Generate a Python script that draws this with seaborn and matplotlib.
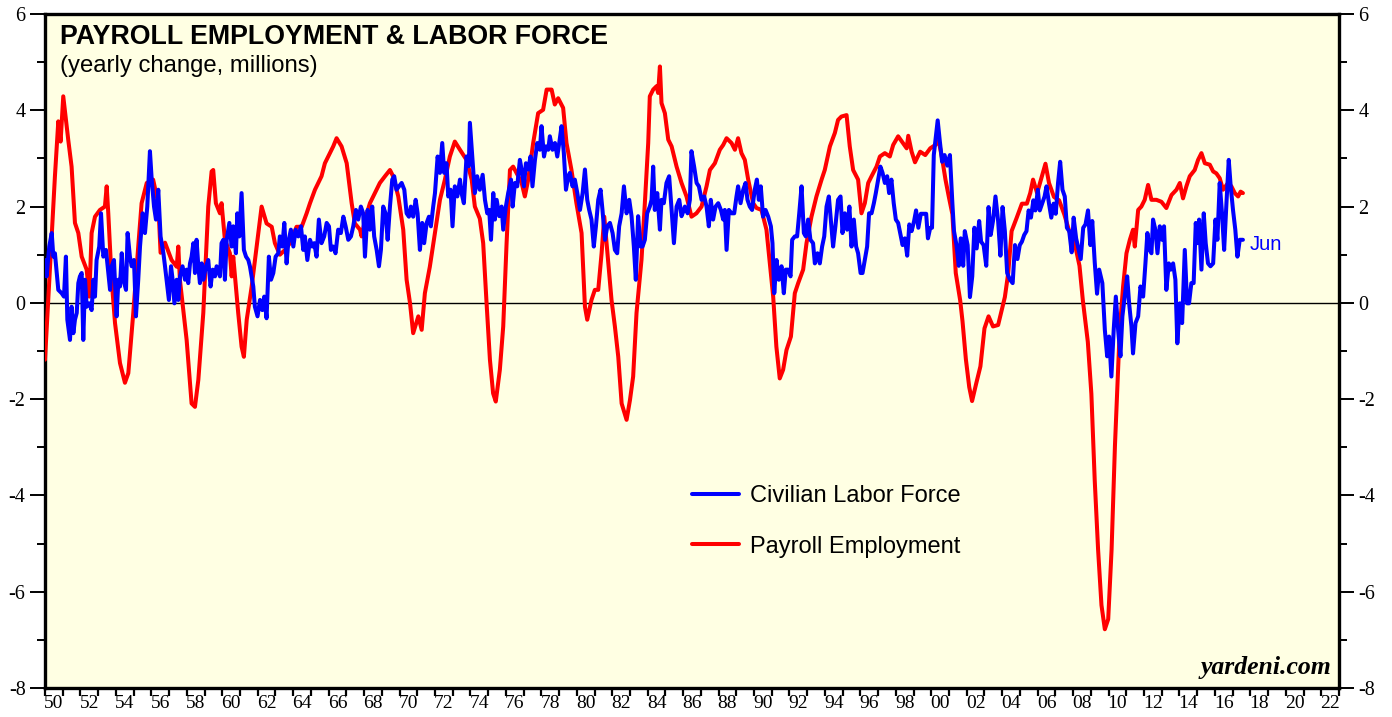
import matplotlib
matplotlib.use("Agg")
import matplotlib.pyplot as plt
import numpy as np
import pandas as pd
import seaborn as sns
from matplotlib.lines import Line2D
from matplotlib.ticker import FixedLocator, FixedFormatter, NullFormatter

# ---------------- data ----------------
payroll_year = [
    1950.00, 1950.56, 1950.75, 1950.88, 1951.03, 1951.31, 1951.50, 1951.69, 1951.88, 1952.07,
    1952.35, 1952.50, 1952.63, 1952.82, 1953.10, 1953.38, 1953.48, 1953.57, 1953.76, 1953.95,
    1954.23, 1954.51, 1954.70, 1954.98, 1955.26, 1955.45, 1955.74, 1956.10, 1956.39, 1956.52,
    1956.77, 1957.14, 1957.43, 1957.52, 1957.61, 1957.99, 1958.27, 1958.46, 1958.65, 1958.93,
    1959.21, 1959.40, 1959.49, 1959.64, 1959.87, 1959.96, 1960.15, 1960.43, 1960.53, 1960.62,
    1960.90, 1961.09, 1961.22, 1961.38, 1961.66, 1961.94, 1962.22, 1962.50, 1962.79, 1962.97,
    1963.25, 1963.54, 1963.82, 1964.19, 1964.48, 1964.76, 1964.95, 1965.23, 1965.60, 1965.79,
    1966.07, 1966.26, 1966.45, 1966.73, 1967.02, 1967.30, 1967.48, 1967.77, 1967.86, 1968.05,
    1968.33, 1968.61, 1968.89, 1969.18, 1969.46, 1969.64, 1969.93, 1970.21, 1970.40, 1970.59,
    1970.77, 1971.06, 1971.25, 1971.43, 1971.71, 1972.00, 1972.28, 1972.56, 1972.84, 1973.12,
    1973.41, 1973.78, 1974.07, 1974.25, 1974.53, 1974.72, 1974.91, 1975.10, 1975.28, 1975.43,
    1975.66, 1975.85, 1976.04, 1976.23, 1976.41, 1976.70, 1976.89, 1977.07, 1977.26, 1977.54,
    1977.82, 1978.10, 1978.30, 1978.58, 1978.76, 1978.95, 1979.23, 1979.42, 1979.70, 1979.98,
    1980.27, 1980.46, 1980.59, 1980.83, 1981.02, 1981.21, 1981.40, 1981.55, 1981.68, 1981.96,
    1982.15, 1982.34, 1982.53, 1982.81, 1983.00, 1983.18, 1983.37, 1983.65, 1983.84, 1984.03,
    1984.12, 1984.31, 1984.50, 1984.59, 1984.69, 1984.78, 1984.97, 1985.16, 1985.35, 1985.63,
    1985.91, 1986.19, 1986.47, 1986.75, 1987.04, 1987.32, 1987.51, 1987.79, 1988.07, 1988.26,
    1988.45, 1988.73, 1988.92, 1989.10, 1989.29, 1989.48, 1989.67, 1989.95, 1990.14, 1990.42,
    1990.70, 1990.89, 1991.08, 1991.26, 1991.45, 1991.64, 1991.83, 1992.08, 1992.30, 1992.49,
    1992.77, 1992.96, 1993.24, 1993.52, 1993.81, 1993.99, 1994.28, 1994.56, 1994.74, 1994.93,
    1995.22, 1995.40, 1995.59, 1995.87, 1996.06, 1996.25, 1996.44, 1996.63, 1996.91, 1997.10,
    1997.38, 1997.66, 1997.85, 1998.13, 1998.61, 1998.70, 1998.89, 1999.08, 1999.37, 1999.66,
    1999.94, 2000.23, 2000.42, 2000.61, 2000.80, 2000.99, 2001.19, 2001.38, 2001.63, 2001.76,
    2001.95, 2002.14, 2002.30, 2002.53, 2002.77, 2003.00, 2003.23, 2003.48, 2003.77, 2003.96,
    2004.15, 2004.34, 2004.53, 2004.82, 2005.11, 2005.39, 2005.58, 2005.74, 2005.97, 2006.25,
    2006.44, 2006.64, 2006.92, 2007.21, 2007.50, 2007.78, 2008.07, 2008.36, 2008.55, 2008.83,
    2009.03, 2009.22, 2009.41, 2009.60, 2009.79, 2009.98, 2010.17, 2010.36, 2010.63, 2010.82,
    2011.01, 2011.20, 2011.38, 2011.48, 2011.67, 2011.85, 2012.04, 2012.23, 2012.42, 2012.70,
    2012.98, 2013.26, 2013.55, 2013.83, 2014.02, 2014.20, 2014.39, 2014.58, 2014.86, 2015.05,
    2015.24, 2015.43, 2015.71, 2015.90, 2016.08, 2016.27, 2016.46, 2016.74, 2016.93, 2017.12,
    2017.31, 2017.45, 2017.58,
]
payroll_val = [
    -1.18, 2.63, 3.77, 3.35, 4.29, 3.39, 2.83, 1.66, 1.45, 0.96,
    0.69, 0.13, 1.45, 1.79, 1.93, 2.00, 2.42, 1.86, 0.48, -0.42,
    -1.25, -1.66, -1.46, -0.21, 1.17, 2.07, 2.49, 2.56, 2.07, 1.04,
    1.25, 0.89, 0.75, 1.17, 0.48, -0.77, -2.09, -2.16, -1.60, -0.21,
    2.00, 2.73, 2.76, 2.07, 1.86, 2.07, 1.31, 1.03, 0.55, 0.96,
    -0.21, -0.91, -1.12, -0.35, 0.34, 1.17, 2.00, 1.65, 1.58, 1.24,
    1.00, 1.10, 1.24, 1.58, 1.58, 1.86, 2.07, 2.35, 2.63, 2.90,
    3.11, 3.25, 3.42, 3.25, 2.90, 2.07, 1.65, 1.52, 1.38, 1.72,
    2.07, 2.28, 2.49, 2.63, 2.76, 2.63, 2.21, 1.52, 0.48, 0.00,
    -0.63, -0.28, -0.56, 0.20, 0.75, 1.45, 2.14, 2.56, 3.04, 3.35,
    3.18, 2.97, 2.56, 2.00, 1.75, 1.24, 0.00, -1.18, -1.88, -2.05,
    -1.39, -0.49, 1.24, 2.76, 2.83, 2.63, 2.49, 2.21, 2.56, 3.32,
    3.94, 4.01, 4.43, 4.43, 4.12, 4.25, 4.05, 3.32, 2.76, 2.07,
    1.45, -0.08, -0.35, 0.06, 0.27, 0.27, 1.03, 1.79, 1.24, 0.06,
    -0.49, -1.12, -2.09, -2.43, -2.02, -1.53, -0.21, 0.89, 2.07, 3.32,
    4.29, 4.43, 4.50, 4.36, 4.91, 4.15, 3.94, 3.39, 3.25, 2.83,
    2.49, 2.21, 1.79, 1.86, 2.00, 2.42, 2.76, 2.90, 3.18, 3.28,
    3.42, 3.32, 3.18, 3.42, 3.11, 2.97, 2.56, 2.07, 1.97, 1.93,
    1.52, 0.82, 0.13, -0.91, -1.57, -1.39, -0.98, -0.70, 0.20, 0.41,
    0.69, 1.24, 1.79, 2.21, 2.56, 2.76, 3.25, 3.53, 3.80, 3.87,
    3.90, 3.25, 2.76, 2.56, 1.86, 2.07, 2.49, 2.63, 2.83, 3.04,
    3.11, 3.04, 3.28, 3.46, 3.21, 3.47, 3.14, 2.92, 3.14, 3.07,
    3.21, 3.28, 3.36, 3.00, 2.56, 2.20, 1.84, 0.62, 0.05, -0.38,
    -1.17, -1.75, -2.04, -1.68, -1.32, -0.53, -0.28, -0.49, -0.46, -0.17,
    0.12, 0.62, 1.49, 1.77, 2.06, 2.06, 2.28, 2.56, 2.28, 2.64,
    2.89, 2.49, 2.20, 2.13, 1.84, 1.49, 1.27, 0.77, 0.05, -0.81,
    -1.89, -3.69, -5.13, -6.28, -6.78, -6.57, -5.13, -2.97, -0.56, 0.34,
    1.03, 1.31, 1.52, 1.17, 1.93, 2.00, 2.14, 2.45, 2.14, 2.14,
    2.10, 1.97, 2.24, 2.35, 2.49, 2.17, 2.42, 2.63, 2.76, 2.97,
    3.11, 2.90, 2.87, 2.73, 2.69, 2.59, 2.35, 2.49, 2.42, 2.28,
    2.21, 2.31, 2.28,
]

labor_year = [
    1950.00, 1950.09, 1950.24, 1950.38, 1950.47, 1950.56, 1950.75, 1950.94, 1951.07, 1951.18,
    1951.26, 1951.41, 1951.50, 1951.60, 1951.69, 1951.79, 1951.88, 1951.97, 1952.07, 1952.16,
    1952.26, 1952.35, 1952.50, 1952.63, 1952.73, 1952.82, 1952.91, 1953.06, 1953.16, 1953.29,
    1953.44, 1953.57, 1953.67, 1953.76, 1953.89, 1954.04, 1954.14, 1954.23, 1954.33, 1954.42,
    1954.57, 1954.66, 1954.79, 1954.89, 1955.02, 1955.13, 1955.26, 1955.36, 1955.51, 1955.64,
    1955.77, 1955.92, 1956.02, 1956.15, 1956.26, 1956.39, 1956.52, 1956.68, 1956.77, 1956.90,
    1956.99, 1957.11, 1957.20, 1957.30, 1957.43, 1957.52, 1957.62, 1957.76, 1957.90, 1957.99,
    1958.08, 1958.18, 1958.27, 1958.37, 1958.46, 1958.55, 1958.65, 1958.74, 1958.84, 1958.93,
    1959.08, 1959.21, 1959.34, 1959.46, 1959.59, 1959.68, 1959.87, 1959.96, 1960.06, 1960.15,
    1960.25, 1960.40, 1960.53, 1960.62, 1960.77, 1960.85, 1960.96, 1961.09, 1961.22, 1961.34,
    1961.47, 1961.56, 1961.75, 1961.84, 1961.99, 1962.13, 1962.26, 1962.37, 1962.50, 1962.63,
    1962.75, 1962.88, 1963.01, 1963.16, 1963.25, 1963.39, 1963.50, 1963.63, 1963.72, 1963.87,
    1964.01, 1964.14, 1964.29, 1964.44, 1964.57, 1964.66, 1964.80, 1964.95, 1965.08, 1965.19,
    1965.32, 1965.45, 1965.60, 1965.75, 1965.89, 1966.02, 1966.13, 1966.26, 1966.39, 1966.54,
    1966.69, 1966.83, 1966.96, 1967.11, 1967.26, 1967.39, 1967.54, 1967.67, 1967.82, 1967.95,
    1968.05, 1968.20, 1968.33, 1968.46, 1968.57, 1968.71, 1968.84, 1968.95, 1969.08, 1969.21,
    1969.33, 1969.46, 1969.59, 1969.70, 1969.83, 1969.97, 1970.12, 1970.27, 1970.40, 1970.53,
    1970.64, 1970.77, 1970.91, 1971.02, 1971.15, 1971.28, 1971.39, 1971.53, 1971.66, 1971.77,
    1971.90, 1972.00, 1972.15, 1972.28, 1972.41, 1972.52, 1972.65, 1972.75, 1972.88, 1972.99,
    1973.12, 1973.26, 1973.41, 1973.50, 1973.63, 1973.78, 1973.91, 1973.97, 1974.12, 1974.25,
    1974.38, 1974.53, 1974.69, 1974.82, 1974.95, 1975.06, 1975.16, 1975.29, 1975.38, 1975.48,
    1975.63, 1975.76, 1975.85, 1976.00, 1976.13, 1976.29, 1976.38, 1976.51, 1976.64, 1976.79,
    1976.92, 1977.02, 1977.13, 1977.26, 1977.39, 1977.50, 1977.64, 1977.77, 1977.92, 1978.01,
    1978.15, 1978.26, 1978.39, 1978.48, 1978.63, 1978.77, 1978.90, 1979.01, 1979.14, 1979.27,
    1979.39, 1979.52, 1979.61, 1979.76, 1979.89, 1980.03, 1980.18, 1980.33, 1980.46, 1980.59,
    1980.70, 1980.83, 1980.96, 1981.08, 1981.21, 1981.34, 1981.45, 1981.59, 1981.72, 1981.87,
    1982.02, 1982.15, 1982.28, 1982.39, 1982.53, 1982.66, 1982.81, 1982.96, 1983.09, 1983.22,
    1983.33, 1983.46, 1983.60, 1983.71, 1983.84, 1983.97, 1984.12, 1984.22, 1984.31, 1984.40,
    1984.54, 1984.69, 1984.78, 1984.91, 1985.06, 1985.21, 1985.35, 1985.48, 1985.63, 1985.78,
    1985.91, 1986.04, 1986.10, 1986.25, 1986.38, 1986.47, 1986.62, 1986.76, 1986.89, 1987.04,
    1987.19, 1987.32, 1987.45, 1987.56, 1987.69, 1987.83, 1987.98, 1988.13, 1988.26, 1988.35,
    1988.45, 1988.58, 1988.73, 1988.88, 1989.01, 1989.10, 1989.24, 1989.39, 1989.52, 1989.63,
    1989.76, 1989.89, 1990.04, 1990.16, 1990.27, 1990.38, 1990.51, 1990.65, 1990.80, 1990.95,
    1991.04, 1991.14, 1991.27, 1991.40, 1991.55, 1991.68, 1991.79, 1991.92, 1992.06, 1992.15,
    1992.30, 1992.43, 1992.55, 1992.68, 1992.81, 1992.92, 1993.05, 1993.18, 1993.33, 1993.43,
    1993.58, 1993.71, 1993.84, 1993.96, 1994.09, 1994.22, 1994.33, 1994.46, 1994.59, 1994.74,
    1994.88, 1994.99, 1995.12, 1995.25, 1995.38, 1995.50, 1995.63, 1995.76, 1995.87, 1996.01,
    1996.12, 1996.25, 1996.38, 1996.49, 1996.63, 1996.76, 1996.87, 1997.00, 1997.13, 1997.25,
    1997.38, 1997.51, 1997.62, 1997.75, 1997.88, 1998.00, 1998.13, 1998.38, 1998.51, 1998.64,
    1998.76, 1998.89, 1999.03, 1999.14, 1999.27, 1999.41, 1999.56, 1999.71, 1999.81, 1999.94,
    2000.04, 2000.14, 2000.27, 2000.36, 2000.48, 2000.61, 2000.75, 2000.90, 2001.05, 2001.19,
    2001.28, 2001.42, 2001.55, 2001.66, 2001.80, 2001.89, 2002.05, 2002.18, 2002.31, 2002.43,
    2002.56, 2002.70, 2002.81, 2002.95, 2003.10, 2003.23, 2003.35, 2003.48, 2003.62, 2003.77,
    2003.90, 2004.02, 2004.15, 2004.28, 2004.44, 2004.59, 2004.72, 2004.86, 2004.99, 2005.11,
    2005.24, 2005.37, 2005.49, 2005.62, 2005.76, 2005.87, 2006.01, 2006.12, 2006.25, 2006.39,
    2006.50, 2006.64, 2006.77, 2006.90, 2007.02, 2007.15, 2007.27, 2007.40, 2007.53, 2007.65,
    2007.78, 2007.92, 2008.03, 2008.17, 2008.30, 2008.43, 2008.57, 2008.70, 2008.84, 2008.97,
    2009.08, 2009.22, 2009.35, 2009.47, 2009.65, 2009.79, 2009.92, 2010.03, 2010.16, 2010.29,
    2010.41, 2010.54, 2010.67, 2010.78, 2010.91, 2011.05, 2011.16, 2011.29, 2011.38, 2011.52,
    2011.67, 2011.80, 2011.95, 2012.08, 2012.19, 2012.32, 2012.42, 2012.51, 2012.64, 2012.76,
    2012.89, 2013.02, 2013.13, 2013.26, 2013.40, 2013.51, 2013.64, 2013.77, 2013.88, 2014.02,
    2014.15, 2014.30, 2014.43, 2014.54, 2014.67, 2014.80, 2014.92, 2015.01, 2015.11, 2015.24,
    2015.37, 2015.48, 2015.61, 2015.75, 2015.90, 2016.03, 2016.14, 2016.27, 2016.40, 2016.52,
    2016.65, 2016.78, 2016.89, 2017.02, 2017.15, 2017.27, 2017.40, 2017.58,
]
labor_val = [
    0.89, 0.55, 1.17, 1.45, 0.96, 1.03, 0.27, 0.20, 0.13, 0.96,
    -0.35, -0.77, -0.08, -0.63, -0.35, -0.21, 0.41, 0.55, 0.62, -0.77,
    0.48, -0.08, -0.01, -0.15, 0.48, 0.13, 0.89, 1.17, 1.86, 0.96,
    1.10, 0.62, 0.27, 0.76, 0.89, -0.28, 0.48, 0.34, 1.03, 0.48,
    0.27, 1.45, 0.96, 0.76, 0.89, -0.28, 0.48, 1.17, 1.86, 1.45,
    2.00, 3.15, 2.56, 2.00, 1.73, 2.35, 1.38, 1.03, 0.76, 0.34,
    0.06, 0.76, 0.48, -0.01, 0.48, 0.06, 0.55, 0.76, 0.48, 0.69,
    0.41, 0.82, 0.96, 1.24, 0.62, 1.31, 0.76, 0.41, 0.82, 0.48,
    0.76, 0.89, 0.34, 0.69, 0.55, 0.76, 0.55, 1.24, 1.31, 0.48,
    1.31, 1.66, 1.17, 1.59, 1.03, 1.86, 1.38, 2.28, 1.10, 0.96,
    0.89, 0.76, 0.34, -0.08, -0.28, 0.06, -0.15, 0.13, -0.32, 0.96,
    0.48, 0.62, 0.96, 1.03, 1.38, 1.17, 1.66, 0.82, 1.24, 1.52,
    1.17, 1.52, 1.38, 1.59, 1.10, 1.38, 0.89, 1.31, 1.17, 1.24,
    0.96, 1.73, 1.24, 1.38, 1.66, 1.59, 1.10, 1.17, 1.03, 1.52,
    1.45, 1.79, 1.59, 1.31, 1.38, 1.59, 1.93, 1.73, 2.00, 1.86,
    0.96, 1.93, 1.52, 2.00, 1.38, 1.10, 0.76, 1.10, 2.00, 1.86,
    1.31, 2.00, 2.56, 2.63, 2.35, 2.42, 2.49, 2.35, 1.86, 1.79,
    2.00, 1.79, 2.14, 1.86, 1.10, 1.66, 1.24, 1.66, 1.79, 1.59,
    2.00, 2.28, 3.04, 2.70, 3.32, 2.70, 2.90, 2.21, 2.35, 1.59,
    2.42, 2.21, 2.56, 2.28, 2.07, 3.04, 2.84, 3.74, 2.97, 2.28,
    2.63, 2.35, 2.66, 2.14, 1.86, 1.93, 1.31, 2.28, 1.73, 2.14,
    1.80, 2.00, 1.52, 2.00, 2.28, 2.56, 2.00, 2.49, 2.42, 2.97,
    2.70, 2.42, 2.90, 2.77, 3.04, 2.42, 2.97, 3.32, 3.18, 3.67,
    3.04, 3.25, 3.18, 3.46, 3.18, 3.32, 3.04, 3.32, 3.67, 3.11,
    2.35, 2.63, 2.70, 2.42, 2.56, 2.28, 1.93, 2.28, 2.77, 2.14,
    1.93, 1.73, 1.17, 1.59, 2.14, 2.35, 1.93, 1.31, 1.59, 1.66,
    1.45, 1.10, 1.03, 1.59, 1.86, 2.42, 1.86, 2.14, 1.80, 1.17,
    0.48, 1.80, 1.17, 1.17, 1.31, 1.86, 2.00, 2.14, 2.83, 1.93,
    2.28, 1.52, 2.14, 2.07, 2.49, 2.63, 1.93, 1.24, 2.00, 2.14,
    1.80, 1.93, 2.00, 1.86, 2.14, 3.15, 2.83, 2.49, 2.42, 2.14,
    2.21, 2.00, 1.59, 2.14, 1.73, 2.00, 2.07, 1.93, 1.73, 1.93,
    1.10, 1.93, 1.86, 1.86, 2.21, 2.42, 2.07, 2.35, 2.49, 2.14,
    2.00, 1.93, 2.35, 2.56, 2.14, 2.42, 1.79, 1.93, 1.79, 1.59,
    1.24, 0.20, 0.89, 0.48, 0.76, 0.20, 0.69, 0.69, 0.55, 1.31,
    1.38, 1.38, 1.86, 2.42, 1.45, 1.38, 1.73, 1.31, 1.24, 0.82,
    1.03, 0.82, 1.17, 1.38, 2.00, 2.21, 1.73, 1.17, 1.59, 2.14,
    2.21, 1.45, 1.86, 1.52, 2.00, 1.17, 1.73, 1.17, 1.03, 0.62,
    0.62, 0.89, 1.17, 1.86, 1.86, 2.07, 2.28, 2.56, 2.83, 2.70,
    2.49, 2.63, 2.28, 2.56, 2.07, 1.73, 1.66, 1.20, 1.34, 0.98,
    1.63, 1.49, 1.70, 1.92, 1.56, 1.85, 1.85, 1.85, 1.34, 1.56,
    1.56, 3.07, 3.50, 3.79, 3.36, 2.93, 3.07, 2.85, 3.07, 2.06,
    1.49, 1.20, 0.77, 1.34, 0.77, 1.49, 1.20, 0.12, 0.55, 1.56,
    1.13, 1.70, 1.27, 1.20, 0.77, 1.99, 1.41, 1.70, 2.21, 1.70,
    0.98, 1.99, 1.49, 0.62, 0.48, 0.41, 1.20, 0.91, 1.20, 1.27,
    1.41, 1.49, 1.92, 1.77, 2.13, 1.92, 2.35, 1.92, 2.06, 2.21,
    2.42, 2.06, 1.77, 2.06, 1.85, 2.49, 2.93, 2.35, 2.21, 1.56,
    1.49, 1.05, 1.77, 1.34, 1.13, 0.91, 1.56, 1.63, 1.92, 1.20,
    1.70, 0.84, 0.19, 0.69, 0.41, -0.56, -1.11, -0.70, -1.53, -0.56,
    0.13, -0.56, -1.11, -0.28, 0.13, 0.55, -0.01, -0.49, -1.05, -0.42,
    -0.28, 0.34, 0.13, 0.82, 1.45, 1.10, 1.03, 1.73, 1.52, 1.03,
    1.59, 1.31, 1.59, 0.27, 0.82, 0.69, 0.82, 0.48, -0.84, -0.01,
    -0.42, 1.10, -0.01, -0.01, 0.41, 0.41, 1.66, 1.24, 1.73, 0.69,
    1.86, 1.24, 0.82, 0.76, 0.82, 1.73, 1.31, 2.49, 1.86, 1.10,
    2.07, 2.97, 2.42, 1.93, 1.52, 0.96, 1.31, 1.31,
]

series_names = ["Civilian Labor Force", "Payroll Employment"]
title_text = "PAYROLL EMPLOYMENT & LABOR FORCE"
subtitle_text = "(yearly change, millions)"
last_label = "Jun"
credit_text = "yardeni.com"
y_ticks_major = [-8, -6, -4, -2, 0, 2, 4, 6]
y_ticks_minor = [-7, -5, -3, -1, 1, 3, 5]
x_label_years = list(range(1950, 2023, 2))
x_tick_years = list(range(1950, 2024))

# ---------------- styling ----------------
sns.set_style("white")
plt.rcParams["font.family"] = ["Liberation Sans", "DejaVu Sans"]
plt.rcParams["text.color"] = "black"
plt.rcParams["xtick.color"] = "black"
plt.rcParams["ytick.color"] = "black"
plt.rcParams["axes.labelcolor"] = "black"

BLUE = "#0000FF"
RED = "#FF0000"
BG = "#FFFFE3"

W, H = 1392, 717
fig = plt.figure(figsize=(W / 100, H / 100), dpi=100)
fig.patch.set_facecolor("white")
L, R, T, B = 45, 1339, 14, 688
ax = fig.add_axes([L / W, 1 - B / H, (R - L) / W, (B - T) / H])
ax.set_facecolor(BG)

df_pay = pd.DataFrame({"year": payroll_year, "value": payroll_val})
df_lab = pd.DataFrame({"year": labor_year, "value": labor_val})

ax.axhline(0, color="black", lw=1.0, zorder=1.5)
sns.lineplot(data=df_pay, x="year", y="value", ax=ax, color=RED, lw=2.9,
             estimator=None, sort=False, legend=False, zorder=3)
sns.lineplot(data=df_lab, x="year", y="value", ax=ax, color=BLUE, lw=2.9,
             estimator=None, sort=False, legend=False, zorder=3.5)

ax.set_xlim(1950, 2023)
ax.set_ylim(-8, 6)
ax.set_xlabel("")
ax.set_ylabel("")

for s in ax.spines.values():
    s.set_visible(True)
    s.set_color("black")
    s.set_linewidth(2.4)

# y ticks both sides
ax.yaxis.set_major_locator(FixedLocator(y_ticks_major))
ax.yaxis.set_minor_locator(FixedLocator(y_ticks_minor))
ax.set_yticklabels([str(v) for v in y_ticks_major])
ax.tick_params(axis="y", which="major", direction="out", length=11, width=1.4,
               left=True, right=True, labelleft=True, labelright=True,
               labelsize=14.5, pad=3, colors="black")
ax.tick_params(axis="y", which="minor", direction="out", length=6, width=1.4,
               left=True, right=True, colors="black")

# x ticks: year boundaries (no labels), labels at mid-year of even years
ax.xaxis.set_major_locator(FixedLocator(x_tick_years))
ax.xaxis.set_major_formatter(NullFormatter())
ax.xaxis.set_minor_locator(FixedLocator([y + 0.5 for y in x_label_years]))
ax.xaxis.set_minor_formatter(FixedFormatter([f"{y % 100:02d}" for y in x_label_years]))
ax.tick_params(axis="x", which="major", direction="out", length=5.5, width=1.6,
               bottom=True, colors="black")
ax.tick_params(axis="x", which="minor", length=0, labelsize=14, pad=5, bottom=True,
               colors="black")

for lab in ax.get_xticklabels(minor=True) + ax.get_yticklabels():
    lab.set_fontfamily("Liberation Serif")

# title / subtitle
ax.text(0.0116, 0.9555, title_text, transform=ax.transAxes, fontsize=19.3,
        fontweight="bold", va="baseline", ha="left", color="black")
ax.text(0.0116, 0.914, subtitle_text, transform=ax.transAxes, fontsize=17.2,
        va="baseline", ha="left", color="black")

# legend
handles = [Line2D([], [], color=BLUE, lw=2.9), Line2D([], [], color=RED, lw=2.9)]
leg = ax.legend(handles, series_names, loc="center left", bbox_to_anchor=(0.5, 0.2475),
                frameon=False, fontsize=17, handlelength=2.0, handletextpad=0.45,
                labelspacing=1.22, borderpad=0, borderaxespad=0)
for t in leg.get_texts():
    t.set_color("black")

# last-value label
ax.text(2017.96, 1.22, last_label, color=BLUE, fontsize=14.5, va="center", ha="left")

# credit
ax.text(0.9938, 0.021, credit_text, transform=ax.transAxes, fontsize=18.5,
        fontfamily="Liberation Serif", fontweight="bold", fontstyle="italic",
        ha="right", va="baseline", color="black")

fig.savefig("out.png", dpi=100, facecolor="white")
